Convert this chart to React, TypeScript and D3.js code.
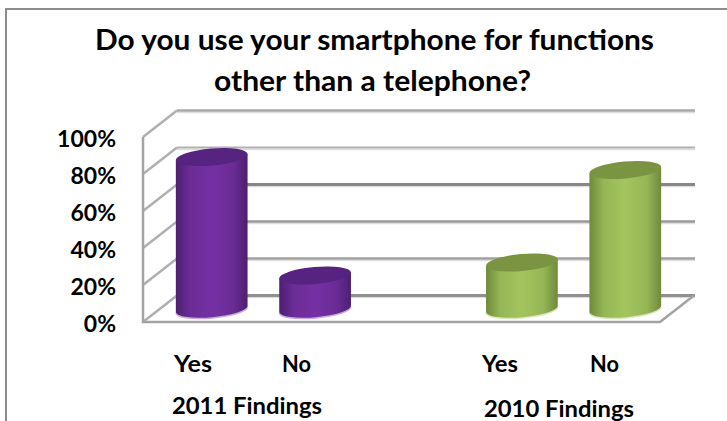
import React from "react";
import * as d3 from "d3";

const categories = ["2011 Yes", "2011 No", "gap", "2010 Yes", "2010 No"];
const values2011 = [82, 18];
const values2010 = [25, 75];
const axisTicks = [0, 20, 40, 60, 80, 100];
const barLabels = ["Yes", "No", "Yes", "No"];
const groupLabels = ["2011 Findings", "2010 Findings"];
const titleLines = [
  "Do you use your smartphone for functions",
  "other than a telephone?",
];

const W = 727;
const H = 421;
const FONT = "Lato, Carlito, sans-serif";
const PURPLE = { mid: "#7430a3", edge: "#4d1f70", top: "#562380", fringe: "#c9a9e0" };
const GREEN = { mid: "#a3c45e", edge: "#6f8a3c", top: "#7a9442", fringe: "#dbe8bd" };

const DEPTH_X = 34;
const DEPTH_Y = 26.5;

const y = d3.scaleLinear().domain([0, 100]).range([322, 137]);
const x = d3.scaleBand().domain(categories).range([143, 660]);

type Palette = typeof PURPLE;

function Cylinder({ category, value, color, id }: { category: string; value: number; color: Palette; id: string }) {
  const cx = x(category)! + x.bandwidth() / 2 + DEPTH_X / 2;
  const rx = 36;
  const ry = 8.5;
  const yBase = y(0) - DEPTH_Y / 2;
  const yTop = y(value) - DEPTH_Y / 2;
  const tilt = -5;
  const dx = rx * Math.cos((tilt * Math.PI) / 180);
  const dy = rx * Math.sin((tilt * Math.PI) / 180);
  const body = `M${cx - dx},${yTop - dy} L${cx - dx},${yBase - dy} A${rx},${ry} ${tilt} 0 0 ${cx + dx},${yBase + dy} L${cx + dx},${yTop + dy} Z`;
  return (
    <g>
      <ellipse cx={cx} cy={yBase + 1.5} rx={rx + 0.5} ry={ry} fill={color.fringe} transform={`rotate(${tilt} ${cx} ${yBase + 1.5})`} />
      <path d={body} fill={`url(#${id})`} />
      <ellipse cx={cx} cy={yTop} rx={rx} ry={ry} fill={color.top} transform={`rotate(${tilt} ${cx} ${yTop})`} />
    </g>
  );
}

function Gradient({ id, color }: { id: string; color: Palette }) {
  return (
    <linearGradient id={id} x1="0" x2="1" y1="0" y2="0">
      <stop offset="0" stopColor={color.edge} />
      <stop offset="0.2" stopColor={d3.interpolateRgb(color.edge, color.mid)(0.75)} />
      <stop offset="0.5" stopColor={color.mid} />
      <stop offset="0.8" stopColor={d3.interpolateRgb(color.edge, color.mid)(0.75)} />
      <stop offset="1" stopColor={color.edge} />
    </linearGradient>
  );
}

// Bold label fitted to a set width, since the installed faces differ in proportion from the design
function Label({ x: px, y: py, size, width, children }: { x: number; y: number; size: number; width: number; children: string }) {
  return (
    <text
      x={px}
      y={py}
      textLength={width}
      lengthAdjust="spacingAndGlyphs"
      fontFamily={FONT}
      fontWeight={700}
      fontSize={size}
      fill="#000"
    >
      {children}
    </text>
  );
}

export default function App() {
  const x0 = x.range()[0];
  const x1 = x.range()[1];
  const grey = "#a3a3a3";
  const gridWidths = [3, 2.5, 2.5, 3, 2, 2.5];
  const gridColors = ["#8f8f8f", "#a0a0a0", "#999999", "#888888", "#b0b0b0", "#a8a8a8"];
  const barLabelX = [174, 282, 482, 590];
  const barLabelW = [38, 29, 36, 29];
  return (
    <svg
      width={W}
      height={H}
      viewBox={`0 0 ${W} ${H}`}
      style={{ position: "fixed", left: 0, top: 0, background: "#fff", display: "block" }}
    >
      <defs>
        <Gradient id="barPurple" color={PURPLE} />
        <Gradient id="barGreen" color={GREEN} />
      </defs>

      {/* Chart frame, open at the bottom and right */}
      <path d={`M6,${H} V9 H${W}`} fill="none" stroke="#8c8c8c" strokeWidth={2} />

      <Label x={95} y={50} size={28} width={559}>{titleLines[0]}</Label>
      <Label x={214} y={91} size={28} width={317}>{titleLines[1]}</Label>

      {/* Walls and floor */}
      {axisTicks.map((t, i) => (
        <g key={t} fill="none">
          <path d={`M${x0},${y(t)} L${x0 + DEPTH_X},${y(t) - DEPTH_Y}`} stroke="#b0b0b0" strokeWidth={2.5} />
          <path d={`M${x0 + DEPTH_X},${y(t) - DEPTH_Y + 2} H${x1 + DEPTH_X + 1}`} stroke="#dedede" strokeWidth={1.5} />
          <path d={`M${x0 + DEPTH_X},${y(t) - DEPTH_Y} H${x1 + DEPTH_X + 1}`} stroke={gridColors[i]} strokeWidth={gridWidths[i]} />
        </g>
      ))}
      <path d={`M${x0},${y(100)} V${y(0)} H${x1} L${x1 + DEPTH_X},${y(0) - DEPTH_Y}`} fill="none" stroke={grey} strokeWidth={2.5} />

      {axisTicks.map((t) => (
        <text key={t} x={116} y={y(t) + 10} textAnchor="end" fontFamily={FONT} fontWeight={700} fontSize={23} fill="#000">
          {t}%
        </text>
      ))}

      <Cylinder category={categories[0]} value={values2011[0]} color={PURPLE} id="barPurple" />
      <Cylinder category={categories[1]} value={values2011[1]} color={PURPLE} id="barPurple" />
      <Cylinder category={categories[3]} value={values2010[0]} color={GREEN} id="barGreen" />
      <Cylinder category={categories[4]} value={values2010[1]} color={GREEN} id="barGreen" />

      {barLabels.map((t, i) => (
        <Label key={i} x={barLabelX[i]} y={372} size={23} width={barLabelW[i]}>{t}</Label>
      ))}
      <Label x={172} y={414} size={23} width={150}>{groupLabels[0]}</Label>
      <Label x={484} y={417} size={23} width={150}>{groupLabels[1]}</Label>
    </svg>
  );
}
